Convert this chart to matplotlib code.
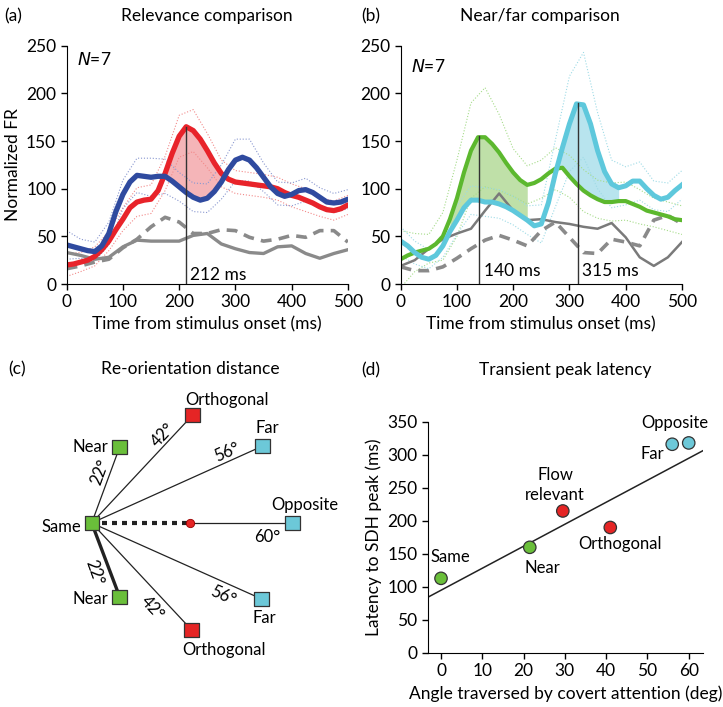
import numpy as np
import matplotlib.pyplot as plt

plt.rcParams['font.family'] = ['Lato', 'DejaVu Sans']
plt.rcParams['font.size'] = 12

# ---- panel (a) data: relevance comparison ----
t_fine = np.arange(0, 500.1, 12.5)
t_coarse = np.arange(0, 500.1, 25)
red_a = np.array([20, 21, 23, 25, 29, 36, 45, 57, 68, 80, 86, 88, 89, 98, 116, 137,
                  155, 165, 161, 152, 140, 127, 116, 110, 107, 106, 105, 104, 103,
                  102, 100, 96, 93, 91, 88, 85, 81, 78, 77, 79, 83])
blue_a = np.array([41, 39, 37, 35, 34, 40, 53, 76, 94, 107, 114, 113, 112, 113, 113,
                   108, 102, 96, 91, 88, 90, 97, 107, 120, 130, 133, 130, 122, 112,
                   102, 95, 92, 94, 98, 99, 96, 91, 86, 85, 86, 89])
red_sem = np.array([12, 10, 10, 10, 12, 15, 15, 18, 22, 22, 18, 14, 12, 12, 12,
                    12, 12, 12, 10, 10, 10])
blue_sem = np.array([15, 10, 10, 12, 15, 18, 20, 18, 15, 15, 15, 18, 22, 22, 15,
                     12, 12, 12, 10, 10, 10])
gray_a = np.array([33, 30, 26, 28, 39, 46, 45, 45, 45, 51, 53, 42, 37, 33, 32,
                   39, 40, 32, 27, 32, 36])
dash_a = np.array([16, 19, 23, 26, 38, 47, 60, 70, 65, 53, 53, 57, 56, 49, 45,
                   47, 51, 49, 56, 56, 44])

# ---- panel (b) data: near/far comparison ----
green_b = np.array([26, 30, 33, 35, 37, 42, 50, 68, 90, 117, 140, 154, 154, 147, 138,
                    127, 117, 109, 104, 106, 110, 116, 121, 122, 113, 105, 98, 93, 89,
                    86, 86, 87, 87, 84, 81, 77, 75, 73, 71, 68, 67])
cyan_b = np.array([45, 40, 33, 28, 26, 30, 40, 55, 67, 80, 88, 88, 86, 86, 84, 81,
                   77, 72, 67, 61, 63, 85, 116, 143, 168, 189, 188, 168, 140, 118,
                   105, 101, 103, 108, 108, 100, 93, 89, 91, 98, 104])
green_sem = np.array([30, 20, 15, 25, 40, 50, 52, 40, 25, 20, 20, 22, 22, 22, 20,
                      20, 20, 18, 15, 15, 15])
cyan_sem = np.array([15, 12, 10, 12, 15, 15, 15, 15, 15, 15, 20, 35, 50, 55, 40,
                     25, 20, 20, 15, 15, 15])
gray_b = np.array([19, 25, 37, 47, 53, 58, 77, 95, 77, 67, 68, 65, 63, 60, 58,
                   64, 49, 28, 19, 28, 44])
dash_b = np.array([18, 14, 14, 18, 27, 37, 46, 51, 46, 40, 56, 65, 49, 33, 32,
                   47, 44, 40, 67, 72, 63])

# ---- panel (c) schematic nodes (offsets from "Same") ----
node_names = ['Near', 'Orthogonal', 'Far', 'Opposite', 'Far', 'Orthogonal', 'Near']
node_x = [28, 101, 171, 201, 170, 100, 28]
node_y = [76, 108, 77, 0, -76, -107, -74]
node_cols = ['#6abf3a', '#e52525', '#6cc8d8', '#6cc8d8', '#6cc8d8', '#e52525', '#6abf3a']
angle_txt = ['22°', '42°', '56°', '60°', '56°', '42°', '22°']

# ---- panel (d) data ----
ang = np.array([0, 21.5, 29.5, 41, 56, 60])
lat = np.array([113, 160, 215, 190, 316, 318])
pt_cols = ['#6abf3a', '#6abf3a', '#e52525', '#e52525', '#6cc8d8', '#6cc8d8']
pt_names = ['Same', 'Near', 'Flow\nrelevant', 'Orthogonal', 'Far', 'Opposite']
fit_slope = 3.33
fit_icpt = 95

RED = '#e8232a'
BLUE = '#2f4a9f'
GREEN = '#5cb82e'
CYAN = '#5ec8dc'
GRAY = '#8a8a8a'

fig = plt.figure(figsize=(7.23, 7.07), dpi=100)


def style_ax(ax):
    ax.spines['top'].set_visible(False)
    ax.spines['right'].set_visible(False)
    ax.tick_params(direction='out', length=4, width=1, labelsize=12.5)


def envelope(ax, m, s, c):
    ax.plot(t_coarse, m[::2] + s, ':', color=c, lw=0.8)
    ax.plot(t_coarse, m[::2] - s, ':', color=c, lw=0.8)


# panel (a)
axa = fig.add_axes([0.0922, 0.5983, 0.389, 0.337])
axa.fill_between(t_fine, red_a, blue_a,
                 where=(red_a >= blue_a) & (t_fine > 150) & (t_fine < 290),
                 interpolate=True, color='#f5b5b8', lw=0)
envelope(axa, red_a, red_sem, '#f28a8a')
envelope(axa, blue_a, blue_sem, '#8a98d0')
axa.plot(t_coarse, gray_a, color=GRAY, lw=2.4, solid_joinstyle='round')
axa.plot(t_coarse, dash_a, '--', color=GRAY, lw=2.6, dashes=(3, 2))
axa.plot(t_fine, red_a, color=RED, lw=3.8, solid_joinstyle='round', solid_capstyle='round')
axa.plot(t_fine, blue_a, color=BLUE, lw=3.8, solid_joinstyle='round', solid_capstyle='round')
axa.plot([212, 212], [0, 165], color='#333333', lw=1)
axa.text(220, 4, '212 ms', fontsize=12.5)
axa.text(18, 230, '$\\it{N}$=7', fontsize=12.5)
axa.set_xlim(0, 500)
axa.set_ylim(0, 250)
axa.set_xticks(range(0, 501, 100))
axa.set_yticks(range(0, 251, 50))
axa.set_ylabel('Normalized FR', fontsize=12.5)
axa.set_xlabel('Time from stimulus onset (ms)', fontsize=12.5)
style_ax(axa)

# panel (b)
axb = fig.add_axes([0.5542, 0.5983, 0.389, 0.337])
axb.fill_between(t_fine, green_b, cyan_b, where=(t_fine >= 87.5) & (t_fine <= 225),
                 color='#bfe0a8', lw=0)
axb.fill_between(t_fine, cyan_b, green_b,
                 where=(cyan_b >= green_b) & (t_fine > 260) & (t_fine <= 387.5),
                 interpolate=True, color='#b8e4ee', lw=0)
envelope(axb, green_b, green_sem, '#a6dc8a')
envelope(axb, cyan_b, cyan_sem, '#9edbe6')
axb.plot(t_coarse, gray_b, color='#7a7a7a', lw=1.8, solid_joinstyle='round')
axb.plot(t_coarse, dash_b, '--', color=GRAY, lw=2.6, dashes=(3, 2))
axb.plot(t_fine, green_b, color=GREEN, lw=3.0, solid_joinstyle='round')
axb.plot(t_fine, cyan_b, color=CYAN, lw=3.6, solid_joinstyle='round')
axb.plot([140, 140], [0, 155], color='#333333', lw=1)
axb.plot([315, 315], [0, 190], color='#333333', lw=1)
axb.text(148, 8, '140 ms', fontsize=12.5)
axb.text(322, 8, '315 ms', fontsize=12.5)
axb.text(18, 222, '$\\it{N}$=7', fontsize=12.5)
axb.set_xlim(0, 500)
axb.set_ylim(0, 250)
axb.set_xticks(range(0, 501, 100))
axb.set_yticks(range(0, 251, 50))
axb.set_xlabel('Time from stimulus onset (ms)', fontsize=12.5)
style_ax(axb)

# panel (c) schematic
axc = fig.add_axes([0, 0, 360 / 723, 327 / 707])
axc.set_xlim(-91.7, 360 - 91.7)
axc.set_ylim(-184, 143)
axc.axis('off')
for i in range(len(node_x)):
    if node_names[i] == 'Opposite':
        axc.plot([98, node_x[i]], [0, node_y[i]], color='#222222', lw=0.9, zorder=1)
        continue
    lw = 2.4 if i == 6 else 0.9
    axc.plot([0, node_x[i]], [0, node_y[i]], color='#222222', lw=lw, zorder=1)
axc.plot([0, 98], [0, 0], color='#222222', lw=3, dashes=(1.2, 1.2), zorder=1)
axc.plot(98, 0, 'o', ms=6, color='#e52525', mec='#990000', mew=0.6, zorder=3)
axc.scatter(node_x, node_y, marker='s', s=110, c=node_cols, edgecolors='#333333',
            linewidths=0.9, zorder=3)
axc.scatter([0], [0], marker='s', s=110, c='#6abf3a', edgecolors='#333333',
            linewidths=0.9, zorder=3)
fs_c = 12
axc.text(-10, -4, 'Same', ha='right', va='center', fontsize=fs_c)
axc.text(node_x[0] - 11, node_y[0], 'Near', ha='right', va='center', fontsize=fs_c)
axc.text(node_x[1] + 34, node_y[1] + 15, 'Orthogonal', ha='center', va='center', fontsize=fs_c)
axc.text(node_x[2] + 5, node_y[2] + 18, 'Far', ha='center', va='center', fontsize=fs_c)
axc.text(node_x[3] + 12, node_y[3] + 18, 'Opposite', ha='center', va='center', fontsize=fs_c)
axc.text(node_x[4] + 3, node_y[4] - 19, 'Far', ha='center', va='center', fontsize=fs_c)
axc.text(node_x[5] + 32, node_y[5] - 20, 'Orthogonal', ha='center', va='center', fontsize=fs_c)
axc.text(node_x[6] - 11, node_y[6] - 2, 'Near', ha='right', va='center', fontsize=fs_c)
ang_pos = [(8, 51, 70), (71, 88, 47), (135, 71, 24), (176, -14, 0),
           (131, -73, -24), (61, -85, -47), (3, -50, -70)]
for (px, py, rot), s in zip(ang_pos, angle_txt):
    axc.text(px, py, s, ha='center', va='center', rotation=rot, fontsize=fs_c)

# panel (d)
axd = fig.add_axes([0.592, 0.0764, 0.380, 0.327])
xx = np.array([-3.15, 63.4])
axd.plot(xx, fit_icpt + fit_slope * xx, color='#222222', lw=1.1)
axd.scatter(ang, lat, s=80, c=pt_cols, edgecolors='#333333', linewidths=0.9, zorder=3)
lab_pos = [(2.2, 145), (24.5, 128), (27.6, 254), (43.3, 165), (51.3, 302), (56.7, 348)]
for (lx, ly), s in zip(lab_pos, pt_names):
    axd.text(lx, ly, s, ha='center', va='center', fontsize=12, linespacing=1.3)
axd.set_xlim(-3.15, 63.4)
axd.set_ylim(0, 350)
axd.set_xticks(range(0, 61, 10))
axd.set_yticks(range(0, 351, 50))
axd.set_xlabel('Angle traversed by covert attention (deg)', fontsize=12.5)
axd.set_ylabel('Latency to SDH peak (ms)', fontsize=12.5)
style_ax(axd)

# panel letters and titles
fig.text(4 / 723, 1 - 16 / 707, '(a)', va='center', fontsize=12.5)
fig.text(207 / 723, 1 - 16 / 707, 'Relevance comparison', ha='center', va='center', fontsize=12.5)
fig.text(361 / 723, 1 - 16 / 707, '(b)', va='center', fontsize=12.5)
fig.text(540 / 723, 1 - 16 / 707, 'Near/far comparison', ha='center', va='center', fontsize=12.5)
fig.text(8 / 723, 1 - 369 / 707, '(c)', va='center', fontsize=12.5)
fig.text(190 / 723, 1 - 369 / 707, 'Re-orientation distance', ha='center', va='center', fontsize=12.5)
fig.text(361 / 723, 1 - 370 / 707, '(d)', va='center', fontsize=12.5)
fig.text(565 / 723, 1 - 370 / 707, 'Transient peak latency', ha='center', va='center', fontsize=12.5)

fig.savefig('out.png', dpi=100)
